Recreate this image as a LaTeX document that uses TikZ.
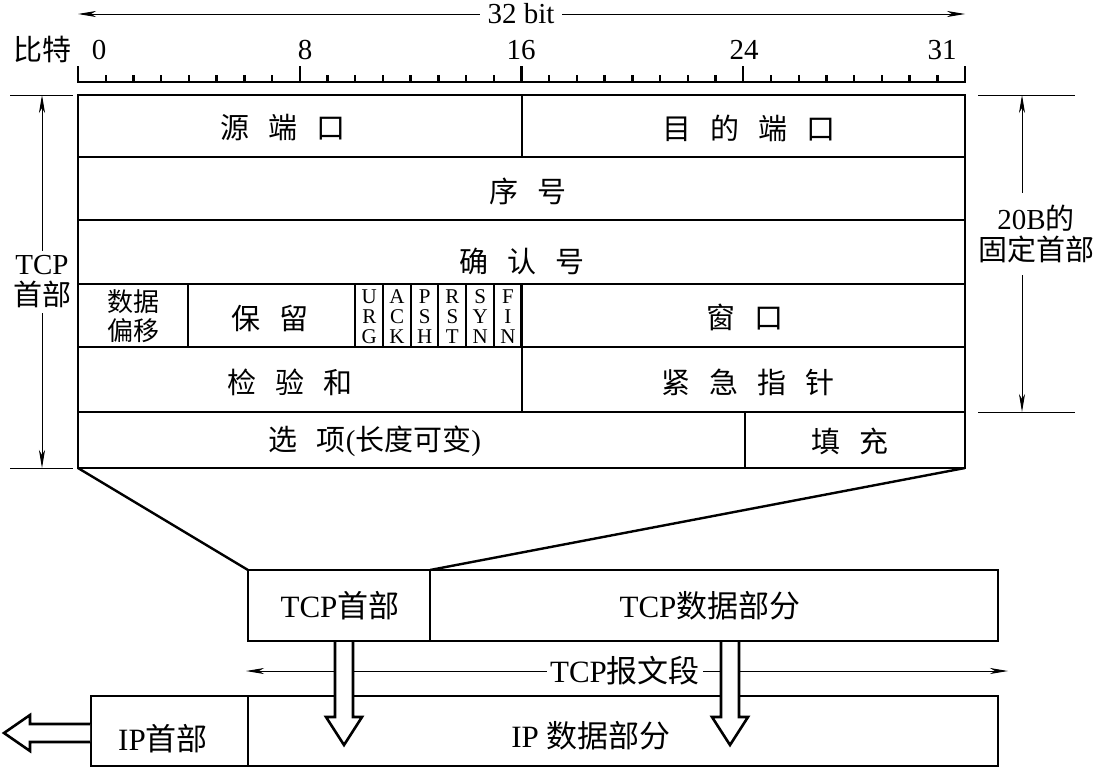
\documentclass[tikz,border=0pt]{standalone}
\usepackage{fontspec}
\setmainfont{Liberation Serif}
\newfontfamily\cjk{Noto Sans CJK SC}
\usetikzlibrary{arrows.meta}
\newcommand\zh[1]{{\cjk #1}}
\newcommand\gp{\hspace{0.65em}}
\begin{document}
\begin{tikzpicture}[x=1pt,y=-1pt,
  boxline/.style={line width=2.6pt},
  thinline/.style={line width=0.9pt},
  dimarr/.style={thinline,{Stealth[length=18pt,width=6pt,inset=5pt]}-{Stealth[length=18pt,width=6pt,inset=5pt]}},
  lbl/.style={font=\fontsize{29}{31}\selectfont, inner sep=0pt},
  seglbl/.style={font=\fontsize{31}{33}\selectfont, inner sep=0pt},
  flag/.style={font=\fontsize{21}{20}\selectfont, inner sep=0pt, align=center},
  gapfill/.style={fill=white, inner sep=5pt, align=center},
  hollow/.style={fill=white, draw=black, line width=2.6pt, line join=miter},
]
\useasboundingbox (0,0) rectangle (1099,768);

% ---------- 32 bit arrow ----------
\coordinate (bitL) at (78,14);
\coordinate (bitR) at (965,14);
\draw[dimarr] (bitL) -- (bitR);
\node[lbl, fill=white, inner xsep=8pt, inner ysep=2pt] (bitlbl) at (521,14) {32 bit};

% ---------- ruler ----------
\coordinate (rulL) at (77,82);
\coordinate (rulR) at (966,82);
\draw[line width=2.6pt] (rulL) -- (rulR);
\foreach \i in {0,...,32}{
  \pgfmathsetmacro\xx{78+\i*27.72}
  \pgfmathtruncatemacro\m{mod(\i,8)}
  \ifnum\m=0
    \draw[line width=2.4pt] (\xx,82) -- (\xx,66);
  \else
    \draw[line width=2.4pt] (\xx,82) -- (\xx,75);
  \fi
}
\node[lbl] (bitword) at (42,49) {\zh{比特}};
\node[lbl] (n0) at (99,50) {0};
\node[lbl] (n8) at (305,50) {8};
\node[lbl] (n16) at (521,50) {16};
\node[lbl] (n24) at (744,50) {24};
\node[lbl] (n31) at (942,50) {31};

% ---------- header table ----------
\draw[boxline] (78,95) rectangle (965,468);
\foreach \yy in {157,220,284,347,412}{
  \draw[boxline] (78,\yy) -- (965,\yy);
}
\draw[boxline] (522,95) -- (522,157);
\draw[boxline] (188,284) -- (188,347);
\foreach \b in {10,...,16}{
  \pgfmathsetmacro\xx{78+\b*27.72}
  \draw[line width=2.2pt] (\xx,284) -- (\xx,347);
}
\draw[boxline] (522,347) -- (522,412);
\draw[boxline] (745,412) -- (745,468);

\node[lbl] (srcport) at (283,128) {\zh{源\gp 端\gp 口}};
\node[lbl] (dstport) at (749,128) {\zh{目\gp 的\gp 端\gp 口}};
\node[lbl] (seq) at (528,191) {\zh{序\gp 号}};
\node[lbl] (ack) at (522,261) {\zh{确\gp 认\gp 号}};
\node[lbl, align=center, font=\fontsize{26}{29}\selectfont] (offset) at (133,316) {\zh{数据}\\\zh{偏移}};
\node[lbl] (resv) at (270,318) {\zh{保\gp 留}};
\node[flag] (fU) at (369.3,317) {U\\R\\G};
\node[flag] (fA) at (397.0,317) {A\\C\\K};
\node[flag] (fP) at (424.7,317) {P\\S\\H};
\node[flag] (fR) at (452.4,317) {R\\S\\T};
\node[flag] (fS) at (480.1,317) {S\\Y\\N};
\node[flag] (fF) at (507.9,317) {F\\I\\N};
\node[lbl] (win) at (745,317) {\zh{窗\gp 口}};
\node[lbl] (csum) at (290,382) {\zh{检\gp 验\gp 和}};
\node[lbl] (urg) at (748,382) {\zh{紧\gp 急\gp 指\gp 针}};
\node[lbl] (opt) at (375,441) {\zh{选\gp 项}(\zh{长度可变})};
\node[lbl] (pad) at (850,441) {\zh{填\gp 充}};

% ---------- left dimension ----------
\coordinate (lt1) at (10,95);  \coordinate (lt2) at (73,95);
\coordinate (lb1) at (10,468); \coordinate (lb2) at (73,468);
\draw[thinline] (lt1) -- (lt2);
\draw[thinline] (lb1) -- (lb2);
\coordinate (la) at (42,95); \coordinate (lz) at (42,468);
\draw[dimarr] (la) -- (lz);
\node[lbl, gapfill, inner xsep=0pt] (tcphdr) at (42,282) {TCP\\\zh{首部}};

% ---------- right dimension ----------
\coordinate (rt1) at (978,95);  \coordinate (rt2) at (1075,95);
\coordinate (rb1) at (978,412); \coordinate (rb2) at (1075,412);
\draw[thinline] (rt1) -- (rt2);
\draw[thinline] (rb1) -- (rb2);
\coordinate (ra) at (1022,95); \coordinate (rz) at (1022,412);
\draw[dimarr] (ra) -- (rz);
\node[lbl, gapfill, inner xsep=0pt, inner ysep=12pt] (fixed) at (1036,234) {20B\zh{的}\\\zh{固定首部}};

% ---------- TCP segment ----------
\coordinate (segTL) at (248,570);
\coordinate (segM) at (430,570);
\draw[boxline] (248,570) rectangle (998,641);
\draw[boxline] (430,570) -- (430,641);
\coordinate (tabBL) at (78,468);
\coordinate (tabBR) at (965,468);
\draw[line width=2.4pt] (tabBL) -- (segTL);
\draw[line width=2.4pt] (tabBR) -- (segM);
\node[seglbl] (seghdr) at (340,606) {TCP\zh{首部}};
\node[seglbl] (segdata) at (710,606) {TCP\zh{数据部分}};

% ---------- TCP segment length arrow ----------
\coordinate (sL) at (246,671);
\coordinate (sR) at (1008,671);
\draw[dimarr] (sL) -- (sR);
\node[seglbl, fill=white, inner xsep=3pt, inner ysep=2pt] (seglen) at (625,671) {TCP\zh{报文段}};

% ---------- IP datagram ----------
\draw[boxline] (91,696) rectangle (998,766);
\draw[boxline] (248,696) -- (248,766);
\node[seglbl] (iphdr) at (163,739) {IP\zh{首部}};
\node[seglbl] (ipdata) at (591,736) {IP \zh{数据部分}};

% ---------- hollow arrows ----------
\filldraw[hollow] (335,642) -- (335,717) -- (326,717) -- (344,745) -- (362,717) -- (353,717) -- (353,642);
\filldraw[hollow] (721,642) -- (721,717) -- (712,717) -- (730,745) -- (748,717) -- (739,717) -- (739,642);
\filldraw[hollow] (90,724) -- (30,724) -- (30,715) -- (4,733) -- (30,751) -- (30,742) -- (90,742);
\end{tikzpicture}
\end{document}
